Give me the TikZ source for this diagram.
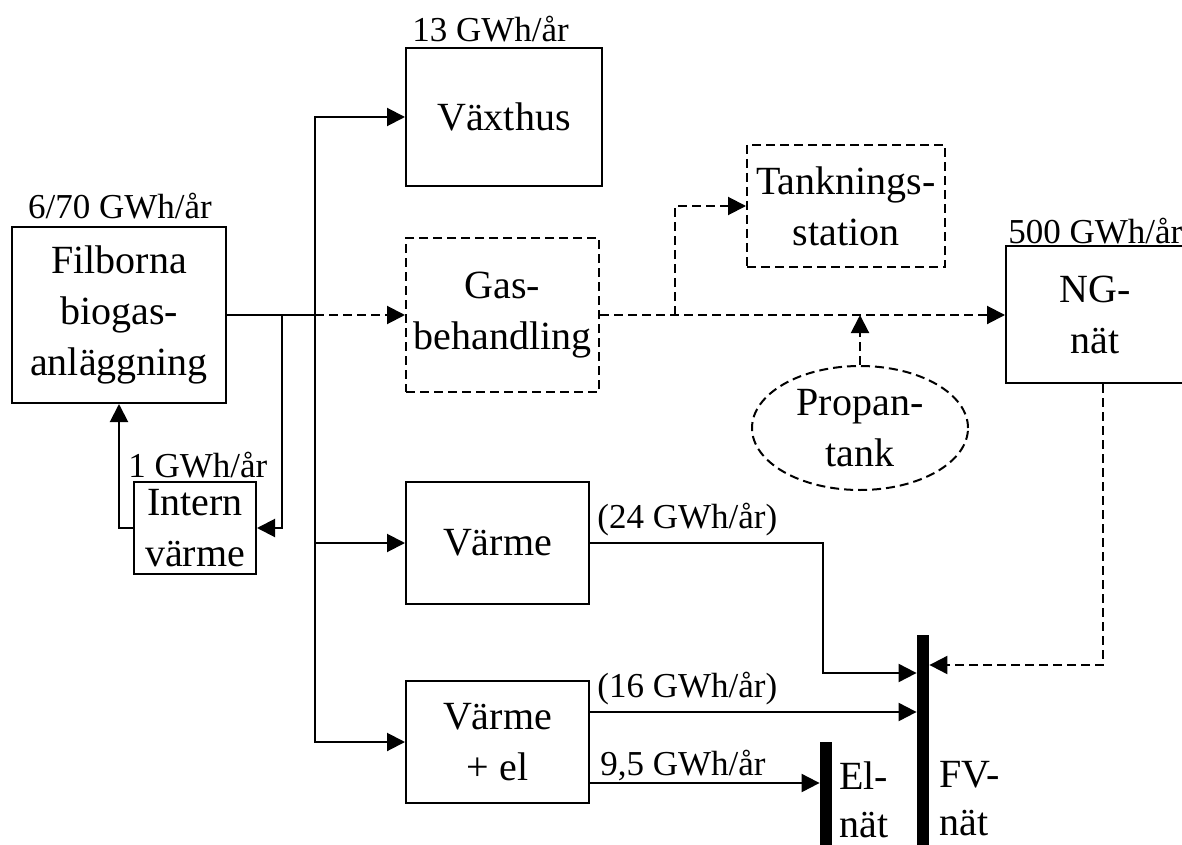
\documentclass[tikz,border=0pt]{standalone}
\usepackage{fontspec}
\setmainfont{Liberation Serif}
\usetikzlibrary{arrows.meta,shapes.geometric}
\definecolor{fdlinje}{HTML}{000000}
\tikzset{
  ruta/.style={draw=fdlinje,line width=1pt,inner sep=1pt,align=center,font=\fontsize{20pt}{25.5pt}\selectfont},
  streckruta/.style={ruta,dash pattern=on 4.5pt off 2.5pt},
  streckoval/.style={ruta,ellipse,inner sep=0pt,dash pattern=on 4.5pt off 2.5pt},
  linje/.style={draw=fdlinje,line width=1pt},
  flode/.style={linje,-{Triangle[length=9pt,width=9pt]}},
  streckflode/.style={flode,dash pattern=on 4.5pt off 2.5pt},
  etikett/.style={font=\fontsize{17.5pt}{21pt}\selectfont,text=fdlinje,inner sep=0pt},
  skena/.style={fill=fdlinje,minimum width=6pt,inner sep=0pt},
  skentext/.style={font=\fontsize{20pt}{24pt}\selectfont,text=fdlinje,align=left,inner sep=0pt,anchor=north west},
}
\begin{document}
\begin{tikzpicture}[x=0.5pt,y=-0.5pt]
  \useasboundingbox (0,0) rectangle (1182,845);
  % rutor
  \node[ruta,minimum width=107pt,minimum height=88pt] (fil) at (119,315) {Filborna\\biogas-\\anläggning};
  \node[ruta,minimum width=61pt,minimum height=46pt] (intern) at (195,528) {Intern\\värme};
  \node[ruta,minimum width=98pt,minimum height=69pt] (vaxt) at (504,117) {Växthus};
  \node[streckruta,minimum width=96.5pt,minimum height=77pt] (gas) at (502.5,315) {Gas-\\behandling};
  \node[streckruta,minimum width=99pt,minimum height=61pt] (tank) at (846,206) {Tanknings-\\station};
  \node[ruta,minimum width=89pt,minimum height=68.5pt] (ng) at (1095,314.5) {NG-\\nät};
  \node[streckoval,minimum width=108pt,minimum height=62pt] (propan) at (860,428) {Propan-\\tank};
  \node[ruta,minimum width=91.5pt,minimum height=61pt] (varme) at (497.5,543) {Värme};
  \node[ruta,minimum width=91.5pt,minimum height=61pt] (vel) at (497.5,742) {Värme\\+ el};
  % skenor
  \node[skena,minimum height=110pt] (fv) at (923,745) {};
  \node[skena,minimum height=58pt] (el) at (826,800) {};
  \node[skentext] (eltext) at (839,761) {El-\\nät};
  \node[skentext] (fvtext) at (939,761) {FV-\\nät};
  % grenpunkter
  \coordinate (gren) at (315,315);
  \coordinate (intgren) at (282,315);
  \coordinate (tgren) at (675,315);
  \coordinate (vkn) at (823,673);
  % floden
  \draw[linje] (fil.east) -- (gren);
  \draw[streckflode] (gren) -- (gas.west);
  \draw[flode] (intgren) |- (intern.east);
  \draw[flode] (intern.west) -| (fil.south);
  \draw[flode] (gren) |- (vaxt.west);
  \draw[flode] (gren) |- (varme.west);
  \draw[flode] (gren) |- (vel.west);
  \draw[streckflode] (gas.east) -- (gas.east -| ng.west);
  \draw[streckflode] (tgren) |- (tank.west);
  \draw[streckflode] (propan.north) -- (propan.north |- gas.east);
  \draw[streckflode] ([xshift=4pt]ng.south) |- ([yshift=40pt]fv.east);
  \draw[flode] (varme.east) -| (vkn) -- (vkn -| fv.west);
  \draw[flode] ([yshift=15pt]vel.east) -- ([yshift=15pt]vel.east -| fv.west);
  \draw[flode] ([yshift=-20.5pt]vel.east) -- ([yshift=-20.5pt]vel.east -| el.west);
  % energital
  \node[etikett,anchor=base] (filtal) at (120,219) {6/70 GWh/år};
  \node[etikett,anchor=base west] (inttal) at (128,477) {1 GWh/år};
  \node[etikett,anchor=base west] (vaxttal) at (412,42) {13 GWh/år};
  \node[etikett,anchor=base west] (ngtal) at (1008,243) {500 GWh/år};
  \node[etikett,anchor=base west] (varmetal) at (597,528) {(24 GWh/år)};
  \node[etikett,anchor=base west] (veltal) at (597,697) {(16 GWh/år)};
  \node[etikett,anchor=base west] (eltal) at (600,775) {9,5 GWh/år};
\end{tikzpicture}
\end{document}
